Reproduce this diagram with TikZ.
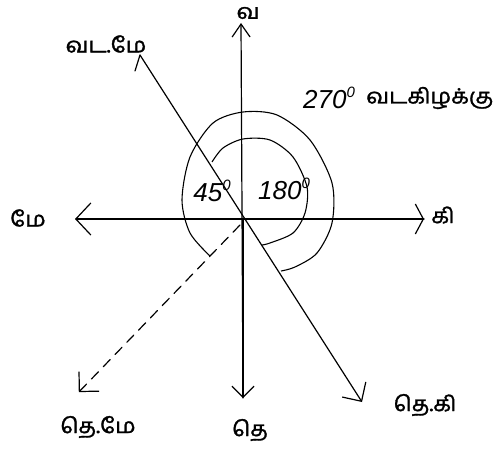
\documentclass[tikz,border=0pt]{standalone}
\usepackage{fontspec}
\usetikzlibrary{arrows.meta}
\newfontfamily\tamil[Script=Tamil,FakeStretch=1.1,FakeBold=1.5]{Hind Madurai}
\newfontfamily\numfont{Liberation Sans}
\newcommand{\degsup}{\raisebox{0.45em}{\fontsize{15}{16}\selectfont 0}}
\begin{document}
\begin{tikzpicture}[x=1pt,y=-1pt,
  axis/.style={line width=1.2pt, line cap=round},
  tl/.style={font=\tamil\fontsize{21}{23}\selectfont, inner sep=0pt},
  nl/.style={font=\numfont\itshape\fontsize{26}{28}\selectfont, inner sep=0pt},
  arcline/.style={line width=1.1pt}]
\useasboundingbox (0,0) rectangle (503,452);
\fill[white] (0,0) rectangle (503,452);
% named points
\coordinate (O) at (243,219);
\coordinate (N) at (241,23);
\coordinate (S) at (243,398);
\coordinate (W) at (75,219);
\coordinate (E) at (424,219);
\coordinate (NW) at (140,55);
\coordinate (SE) at (362,402);
\coordinate (SWs) at (240,225);
\coordinate (SW) at (76,395);
\coordinate (NWt) at (135,71);
% axes
\draw[axis,-{Straight Barb[length=13pt,width=18pt]}] (S) -- (N);
\draw[axis,-{Straight Barb[length=11pt,width=22pt]}] (O) -- (S);
\draw[axis,-{Straight Barb[length=15pt,width=32pt]}] (E) -- (W);
\draw[axis,-{Straight Barb[length=8pt,width=30pt]}] (O) -- (E);
\draw[axis,-{Straight Barb[length=14pt,width=28pt]}] (NW) -- (SE);
\draw[axis] (NW) -- (NWt);
\draw[axis,dash pattern=on 10pt off 7pt,-{Straight Barb[length=14pt,width=28pt,sep=4pt]}] (SWs) -- (SW);
% arcs
\draw[arcline] plot[smooth] coordinates {(212,162) (223,148) (243,139) (270,140) (293,157) (307,187) (305,213) (293,233) (270,243) (262,245)};
\draw[arcline] plot[smooth] coordinates {(210,256) (190,233) (182,200) (190,157) (213,123) (243,112) (277,115) (310,140) (332,183) (332,223) (317,253) (295,267) (281,271)};
% labels
\node[tl] (lN) at (248,13) {வ};
\node[tl] (lNW) at (106,44) {வட.மே};
\node[nl, anchor=west] (lNE) at (303,98) {270\degsup};
\node[tl, anchor=west] (lNEt) at (366,98) {வடகிழக்கு};
\node[tl] (lW) at (28,218) {மே};
\node[tl] (lE) at (443,215) {கி};
\node[nl] (l45) at (212,191) {45\degsup};
\node[nl] (l180) at (284,189) {180\degsup};
\node[tl] (lSW) at (98,427) {தெ.மே};
\node[tl] (lS) at (250,430) {தெ};
\node[tl] (lSE) at (425,405) {தெ.கி};
\end{tikzpicture}
\end{document}
